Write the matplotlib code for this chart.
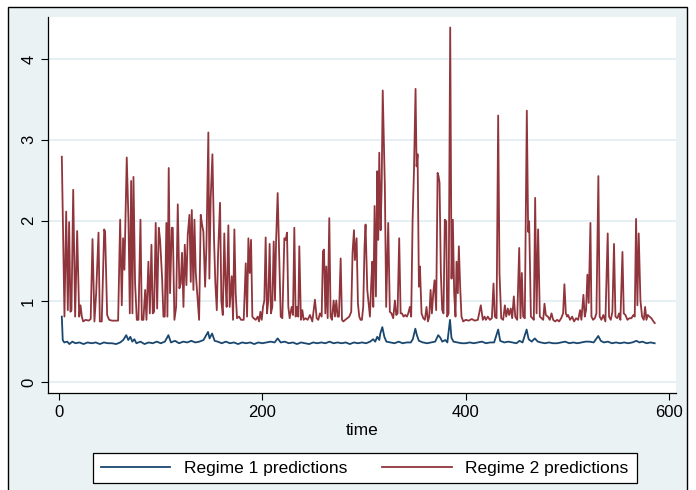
import matplotlib
matplotlib.use("Agg")
import matplotlib.pyplot as plt
from matplotlib.patches import Rectangle

plt.rcParams['font.family'] = ['Liberation Sans', 'DejaVu Sans']

# regime 2 predictions (time, value)
r2_time = [2.6, 5.2, 6.9, 8.5, 9.8, 11.1, 12.1, 13.8, 15.7, 17.7, 19.7, 21.0, 22.3, 23.6,
           26.0, 29.0, 31.0, 32.8, 34.7, 36.4, 38.7, 40.0, 41.9, 44.3, 45.2, 47.2, 49.2,
           52.0, 55.0, 58.0, 60.0, 61.6, 62.9, 64.2, 66.5, 68.2, 69.5, 70.8, 72.1, 73.1,
           74.7, 76.4, 78.0, 80.0, 81.3, 82.9, 84.6, 85.9, 87.8, 89.2, 90.8, 92.1, 93.4,
           95.0, 96.4, 98.0, 99.3, 101.3, 102.6, 103.9, 105.5, 106.5, 107.8, 109.1, 110.8,
           111.8, 113.4, 115.1, 116.7, 118.3, 119.6, 120.9, 122.3, 123.6, 125.2, 126.5,
           128.2, 129.5, 130.5, 132.1, 133.1, 134.4, 136.0, 137.7, 139.3, 140.6, 141.9,
           143.6, 144.9, 146.8, 147.8, 149.1, 150.8, 152.4, 153.7, 155.1, 156.4, 158.3,
           159.6, 161.0, 162.5, 163.8, 164.8, 166.5, 167.8, 169.8, 171.1, 172.4, 173.7,
           175.0, 177.0, 179.0, 181.6, 183.6, 184.9, 186.2, 187.5, 188.8, 190.1, 191.4,
           193.4, 195.4, 196.7, 198.0, 199.3, 200.6, 201.9, 203.2, 204.5, 205.8, 207.1,
           208.4, 209.7, 211.1, 212.4, 213.4, 215.0, 216.7, 218.0, 219.6, 221.6, 222.9,
           224.2, 225.5, 226.8, 228.8, 230.1, 231.4, 232.7, 234.0, 235.3, 236.3, 237.9,
           239.3, 240.6, 242.5, 244.5, 246.8, 249.1, 251.7, 253.4, 255.0, 256.6, 258.3,
           259.6, 260.6, 261.9, 262.9, 264.2, 265.8, 267.1, 268.4, 270.1, 271.4, 272.7,
           274.0, 275.3, 277.0, 278.3, 279.6, 281.5, 283.5, 285.5, 287.4, 288.7, 290.1,
           291.0, 292.7, 294.0, 295.3, 296.6, 297.9, 299.2, 300.5, 301.5, 303.2, 304.5,
           305.8, 307.1, 308.1, 309.1, 310.4, 311.7, 313.0, 314.0, 315.0, 316.3, 317.3,
           318.4, 320.5, 321.8, 323.8, 325.4, 327.0, 328.7, 330.4, 331.7, 333.0, 334.6,
           336.0, 337.3, 338.9, 340.5, 342.2, 343.5, 345.1, 346.4, 347.8, 349.1, 350.7,
           351.7, 352.7, 354.0, 355.0, 356.6, 358.3, 359.9, 361.5, 362.9, 364.2, 365.5,
           366.8, 368.1, 369.4, 371.0, 372.4, 373.3, 374.3, 375.6, 376.9, 378.2, 379.5,
           380.9, 381.8, 383.2, 384.8, 386.1, 387.4, 388.7, 390.0, 391.0, 392.3, 393.3,
           394.6, 395.9, 397.6, 400.0, 403.0, 406.0, 409.0, 412.0, 414.9, 416.9, 418.6,
           419.9, 421.8, 423.8, 425.8, 427.4, 428.7, 430.4, 432.0, 433.3, 435.0, 436.9,
           438.6, 439.9, 441.5, 442.8, 444.4, 445.8, 447.4, 448.8, 450.7, 452.7, 454.0,
           455.3, 456.6, 458.2, 460.2, 461.5, 462.5, 464.2, 465.8, 467.1, 468.4, 469.8,
           471.3, 473.0, 474.6, 476.3, 477.6, 478.9, 480.9, 482.8, 484.5, 486.1, 488.1,
           490.1, 492.0, 494.0, 495.9, 497.2, 498.6, 499.9, 500.8, 502.8, 504.8, 506.7,
           508.7, 510.7, 512.6, 513.9, 515.9, 517.2, 518.5, 519.8, 521.1, 522.8, 523.8,
           525.4, 527.1, 528.7, 530.6, 531.9, 533.6, 535.5, 537.5, 539.8, 541.1, 542.8,
           544.4, 546.0, 547.4, 549.3, 551.0, 552.3, 554.3, 555.6, 557.2, 559.2, 561.2,
           563.1, 565.1, 566.4, 567.7, 569.0, 570.3, 572.0, 573.6, 575.3, 576.6, 577.9,
           579.2, 580.9, 582.8, 584.8, 586.1]
r2_value = [2.79, 0.81, 2.11, 0.89, 1.98, 0.87, 0.89, 2.38, 0.81, 1.87, 0.81, 0.95, 0.81, 0.75,
            0.77, 0.76, 0.78, 1.77, 0.75, 1.10, 1.85, 0.75, 0.75, 1.89, 1.86, 0.83, 0.77,
            0.76, 0.76, 0.76, 2.01, 0.95, 1.78, 1.39, 2.78, 2.00, 0.85, 2.49, 0.85, 2.54,
            1.22, 0.77, 0.77, 2.01, 0.77, 0.77, 1.14, 0.77, 1.49, 0.85, 1.70, 0.85, 0.87,
            1.97, 0.91, 1.91, 1.76, 1.28, 0.81, 0.81, 1.97, 0.81, 2.65, 1.10, 1.91,
            1.91, 0.77, 0.93, 2.20, 1.16, 1.22, 1.60, 0.93, 1.70, 1.20, 1.82,
            2.07, 1.24, 2.13, 1.14, 2.01, 1.35, 1.06, 0.77, 2.07, 1.95, 1.86,
            1.18, 1.68, 3.09, 1.28, 2.28, 2.82, 1.76, 1.22, 0.89, 1.60, 2.22,
            1.00, 0.83, 1.84, 1.20, 0.93, 1.94, 0.93, 1.31, 0.77, 1.89, 1.10,
            0.79, 0.81, 0.77, 0.77, 1.47, 0.81, 1.78, 1.35, 1.76, 0.81, 0.79,
            0.77, 0.81, 0.75, 0.87, 0.77, 0.93, 1.01, 1.79, 0.85, 1.01, 1.71,
            0.85, 0.93, 1.74, 1.01, 1.72, 2.34, 1.47, 0.81, 0.79, 1.78, 1.76,
            1.85, 0.93, 0.79, 0.93, 0.83, 1.91, 0.81, 0.93, 0.81, 1.68, 0.77,
            0.89, 0.77, 0.79, 0.77, 0.83, 0.75, 1.02, 0.79, 0.77, 0.85, 0.81,
            1.62, 1.64, 0.85, 1.43, 0.79, 2.03, 0.81, 0.77, 1.01, 0.81, 1.01,
            0.81, 0.81, 1.53, 0.77, 0.75, 0.77, 0.79, 0.81, 0.87, 1.60, 1.88,
            1.51, 1.78, 0.97, 0.81, 0.77, 0.77, 0.93, 1.68, 1.95, 1.14, 0.97,
            0.81, 1.22, 1.49, 0.93, 2.18, 1.06, 2.61, 1.76, 2.84, 1.88, 2.38,
            3.61, 2.42, 0.93, 1.97, 0.87, 0.85, 0.79, 1.01, 0.83, 0.85, 1.78,
            0.85, 0.85, 0.81, 0.83, 0.81, 0.85, 0.93, 0.81, 2.01, 2.59, 3.63,
            2.67, 2.82, 1.18, 1.43, 0.85, 0.79, 0.77, 0.93, 0.75, 0.81, 1.14,
            0.85, 1.10, 1.26, 0.89, 2.59, 2.55, 2.47, 1.35, 0.89, 0.85, 2.01,
            1.99, 0.81, 0.85, 4.39, 1.28, 2.01, 1.10, 0.81, 1.49, 1.10, 1.68,
            1.18, 0.81, 0.75, 0.77, 0.76, 0.78, 0.76, 0.77, 0.95, 0.77, 0.81,
            0.77, 0.81, 0.77, 0.79, 1.22, 0.81, 0.79, 3.30, 1.35, 0.79, 0.77,
            0.95, 0.81, 0.91, 0.83, 0.91, 0.79, 1.06, 0.81, 0.77, 1.66, 0.79,
            1.35, 0.81, 0.79, 3.36, 1.86, 1.99, 0.81, 0.79, 0.77, 2.28, 0.85,
            1.89, 0.81, 0.79, 0.77, 0.97, 0.83, 0.81, 0.77, 0.85, 0.77, 0.75,
            0.77, 0.75, 0.79, 0.85, 1.21, 0.85, 0.81, 0.83, 0.77, 0.81, 0.75,
            0.79, 0.77, 0.89, 0.77, 1.08, 0.81, 0.89, 1.33, 0.98, 1.97, 0.81,
            0.77, 0.79, 0.85, 2.55, 0.81, 0.77, 0.83, 0.75, 1.84, 0.81, 0.77,
            0.87, 1.71, 0.81, 0.79, 0.85, 0.77, 1.61, 0.85, 0.83, 0.77, 0.79,
            0.79, 0.83, 0.81, 2.02, 0.95, 1.84, 1.01, 0.81, 0.77, 0.93, 0.77,
            0.83, 0.81, 0.79, 0.75, 0.73]

# regime 1 predictions
r1_time = [2.6, 3.5, 5, 8, 10, 13, 16, 20, 24, 28, 32, 36, 40, 44, 48, 52, 56, 60, 63, 66,
           68, 70, 72, 74, 76, 80, 84, 88, 92, 96, 100, 104, 107.5, 110, 114, 118, 122,
           126, 130, 134, 138, 142, 146.5, 148, 150.5, 153, 156, 160, 164, 168, 172, 176,
           180, 184, 188, 192, 196, 200, 204, 208, 212, 215, 218, 222, 226, 230, 234, 238,
           242, 246, 250, 254, 258, 262, 266, 270, 274, 278, 282, 286, 290, 294, 298, 302,
           306, 309, 311, 313, 315, 316, 318, 320, 322, 326, 330, 334, 338, 342, 346, 348,
           350.5, 352, 354, 358, 362, 366, 370, 373, 375, 377, 380, 382, 384.6, 386, 388,
           392, 396, 400, 404, 408, 412, 416, 420, 424, 428, 432, 434, 438, 442, 446, 450,
           453, 456, 460, 462, 465, 468, 471, 474, 478, 482, 486, 490, 494, 498, 502, 506,
           510, 514, 518, 522, 526, 530.5, 533, 536, 540, 544, 548, 552, 556, 560, 564,
           568, 571, 574, 578, 582, 586]
r1_value = [0.81, 0.52, 0.49, 0.50, 0.47, 0.50, 0.48, 0.49, 0.47, 0.49, 0.48, 0.49, 0.47,
            0.49, 0.48, 0.48, 0.47, 0.49, 0.52, 0.58, 0.52, 0.56, 0.50, 0.53, 0.48, 0.50,
            0.47, 0.49, 0.48, 0.50, 0.48, 0.50, 0.58, 0.49, 0.51, 0.48, 0.50, 0.49, 0.51,
            0.49, 0.50, 0.52, 0.62, 0.54, 0.60, 0.51, 0.50, 0.48, 0.50, 0.48, 0.49, 0.47,
            0.49, 0.48, 0.49, 0.47, 0.49, 0.48, 0.49, 0.50, 0.49, 0.54, 0.49, 0.50, 0.48,
            0.49, 0.47, 0.49, 0.48, 0.47, 0.49, 0.48, 0.49, 0.48, 0.50, 0.48, 0.49, 0.48,
            0.49, 0.47, 0.49, 0.48, 0.49, 0.48, 0.50, 0.53, 0.50, 0.56, 0.52, 0.60, 0.68,
            0.56, 0.50, 0.49, 0.48, 0.50, 0.48, 0.49, 0.49, 0.53, 0.66, 0.58, 0.51, 0.49,
            0.48, 0.49, 0.50, 0.58, 0.55, 0.50, 0.52, 0.49, 0.77, 0.55, 0.50, 0.49, 0.48,
            0.48, 0.49, 0.48, 0.49, 0.50, 0.48, 0.49, 0.49, 0.65, 0.51, 0.49, 0.50, 0.49,
            0.48, 0.51, 0.49, 0.65, 0.53, 0.50, 0.54, 0.50, 0.49, 0.48, 0.49, 0.48, 0.48,
            0.49, 0.50, 0.48, 0.49, 0.48, 0.49, 0.50, 0.50, 0.49, 0.57, 0.51, 0.49, 0.50,
            0.48, 0.49, 0.48, 0.49, 0.48, 0.49, 0.51, 0.49, 0.50, 0.48, 0.49, 0.48]

xticks = [0, 200, 400, 600]
yticks = [0, 1, 2, 3, 4]

bg = '#eaf2f3'
navy = '#1a476f'
maroon = '#90353b'

fig = plt.figure(figsize=(6.96, 4.90), dpi=100, facecolor='white')
frame = Rectangle((8/696, -0.01), 679/696, 1 - 7/490 + 0.01,
                  transform=fig.transFigure, facecolor=bg,
                  edgecolor='black', linewidth=1.0, zorder=-10)
fig.patches.append(frame)

ax = fig.add_axes([48/696, 1 - 393/490, 628/696, 376/490])
ax.set_zorder(1)
ax.set_facecolor('white')

for y in yticks:
    ax.axhline(y, color='#e2eef2', linewidth=1.2, zorder=1)

ax.plot(r1_time, r1_value, color=navy, linewidth=1.3, label='Regime 1 predictions', zorder=3)
ax.plot(r2_time, r2_value, color=maroon, linewidth=1.3, label='Regime 2 predictions', zorder=2)

ax.set_xlim(-11, 607)
ax.set_ylim(-0.136, 4.52)
ax.set_xticks(xticks)
ax.set_yticks(yticks)
ax.set_yticklabels([str(v) for v in yticks], rotation=90, va='center')
ax.tick_params(axis='both', labelsize=12, length=5, width=0.8, direction='out')
ax.set_xlabel('time', fontsize=12.5, labelpad=2)

for side in ['top', 'right']:
    ax.spines[side].set_visible(False)
for side in ['left', 'bottom']:
    ax.spines[side].set_linewidth(0.9)

leg = fig.legend(loc='center', bbox_to_anchor=(0.524, 1 - 468/490), ncol=2,
                 fontsize=12.5, frameon=True, fancybox=False, framealpha=1.0,
                 handlelength=4.0, handletextpad=0.8, columnspacing=2.0, borderpad=0.45)
leg.set_zorder(5)
leg.get_frame().set_edgecolor('black')
leg.get_frame().set_linewidth(0.9)
leg.get_frame().set_facecolor('white')

fig.savefig('out.png', dpi=100, facecolor=fig.get_facecolor())
